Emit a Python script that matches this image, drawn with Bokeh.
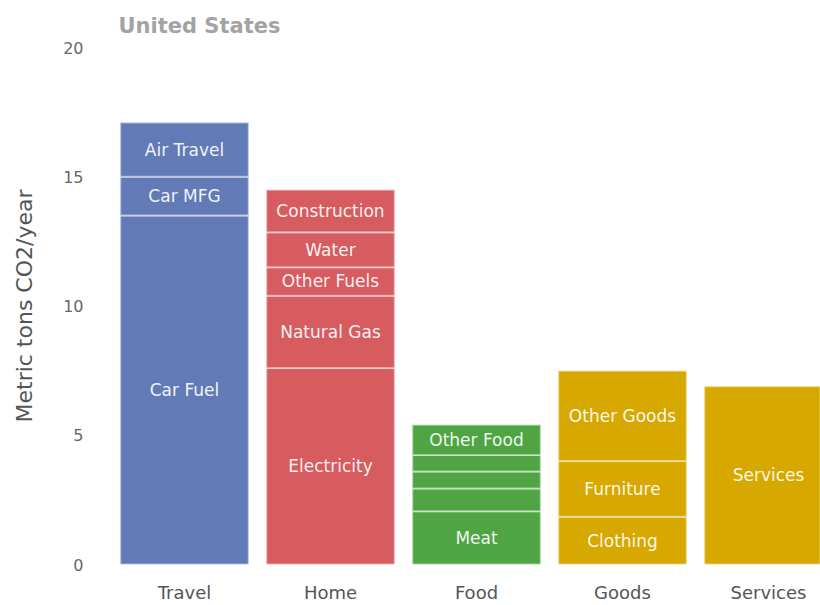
from bokeh.plotting import figure
from bokeh.models import ColumnDataSource, FixedTicker, Range1d
from bokeh.core.properties import value
from bokeh.embed import file_html
from bokeh.resources import INLINE

categories = ["Travel", "Home", "Food", "Goods", "Services"]
cat_colors = ["#627bb6", "#d75c60", "#4fa544", "#d6a800", "#d6a800"]

travel_labels = ["Car Fuel", "Car MFG", "Air Travel"]
travel_values = [13.5, 1.5, 2.1]
home_labels = ["Electricity", "Natural Gas", "Other Fuels", "Water", "Construction"]
home_values = [7.6, 2.8, 1.1, 1.35, 1.65]
food_labels = ["Meat", "", "", "", "Other Food"]
food_values = [2.06, 0.88, 0.66, 0.64, 1.17]
goods_labels = ["Clothing", "Furniture", "Other Goods"]
goods_values = [1.85, 2.15, 3.5]
services_labels = ["Services"]
services_values = [6.9]

y_ticks = [0, 5, 10, 15, 20]

groups = [
    (travel_labels, travel_values),
    (home_labels, home_values),
    (food_labels, food_values),
    (goods_labels, goods_values),
    (services_labels, services_values),
]

xs, bottoms, tops, mids, colors, labels = [], [], [], [], [], []
for i, (labs, vals) in enumerate(groups):
    base = 0.0
    for lab, v in zip(labs, vals):
        xs.append(i)
        bottoms.append(base)
        tops.append(base + v)
        mids.append(base + v / 2)
        colors.append(cat_colors[i])
        labels.append(lab)
        base += v

src = ColumnDataSource(dict(x=xs, bottom=bottoms, top=tops, mid=mids, color=colors, label=labels))

p = figure(width=820, height=605, output_backend="svg", toolbar_location=None,
           x_range=Range1d(-0.5753, 4.3562), y_range=Range1d(0, 20),
           min_border_left=100, min_border_right=0, min_border_top=47, min_border_bottom=39)

p.vbar(x="x", bottom="bottom", top="top", width=0.88, fill_color="color",
       line_color="white", line_alpha=0.45, line_width=2, source=src)
p.text(x="x", y="mid", text="label", source=src, text_align="center", text_baseline="middle",
       text_font=value("DejaVu Sans"), text_font_size="17px", text_color="white", text_alpha=0.93)

p.title.text = "United States"
p.title.text_font = "DejaVu Sans"
p.title.text_font_size = "21px"
p.title.text_font_style = "bold"
p.title.text_color = "#a3a3a3"
p.title.align = "left"
p.title.offset = 18
p.title.standoff = 20

p.outline_line_color = None
p.xgrid.grid_line_color = None
p.ygrid.grid_line_color = None

p.xaxis.ticker = FixedTicker(ticks=list(range(len(categories))))
p.xaxis.major_label_overrides = {i: c for i, c in enumerate(categories)}
p.yaxis.ticker = FixedTicker(ticks=y_ticks)

for ax in (p.xaxis, p.yaxis):
    ax.axis_line_color = None
    ax.major_tick_line_color = None
    ax.minor_tick_line_color = None
    ax.major_tick_out = 0
    ax.major_tick_in = 0
    ax.major_label_text_font = "DejaVu Sans"

p.xaxis.major_label_text_font_size = "18px"
p.xaxis.major_label_text_color = "#555555"
p.xaxis.major_label_standoff = 17

p.yaxis.major_label_text_font_size = "16px"
p.yaxis.major_label_text_color = "#666666"
p.yaxis.major_label_standoff = 17
p.yaxis.axis_label = "Metric tons CO2/year"
p.yaxis.axis_label_text_font = "DejaVu Sans"
p.yaxis.axis_label_text_font_size = "22px"
p.yaxis.axis_label_text_font_style = "normal"
p.yaxis.axis_label_text_color = "#555555"
p.yaxis.axis_label_standoff = 23

open("out.html", "w").write(file_html(p, INLINE))
